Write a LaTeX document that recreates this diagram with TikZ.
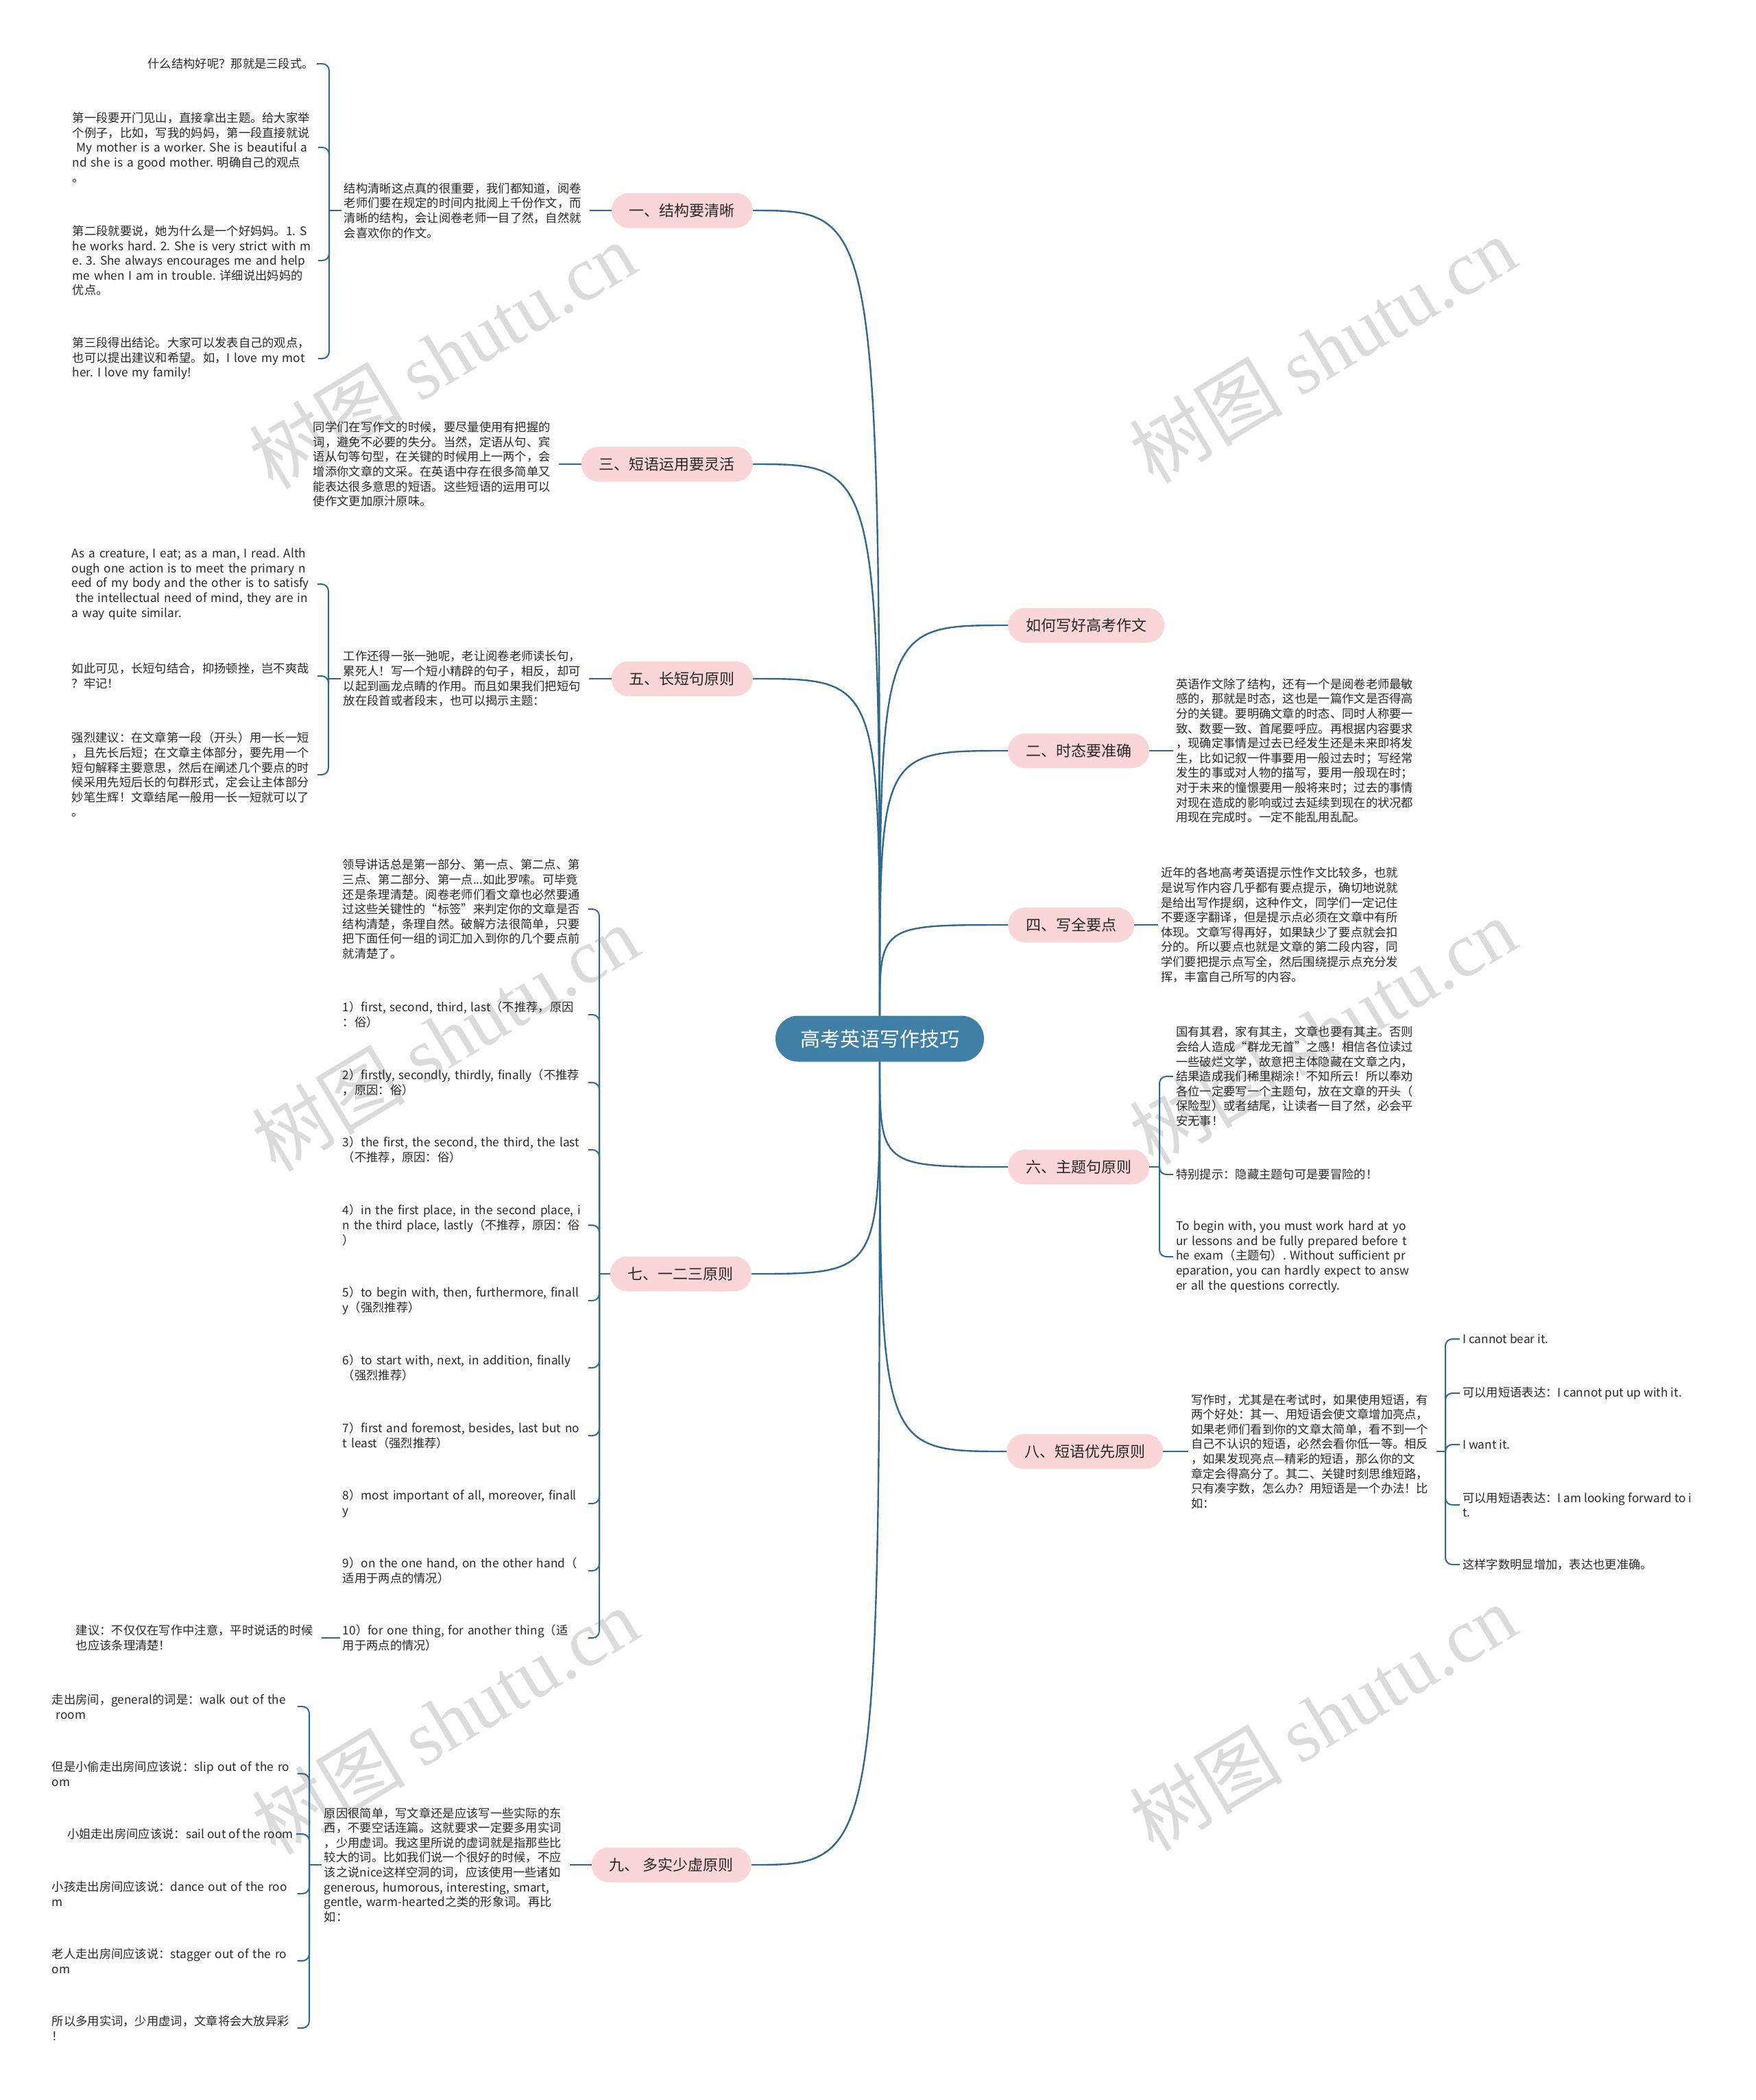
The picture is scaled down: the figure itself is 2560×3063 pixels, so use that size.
\documentclass[tikz,border=0pt]{standalone}
\usepackage{fontspec}
\setmainfont{Noto Sans CJK SC}
\newfontfamily\wmfont{Liberation Serif}
\frenchspacing
\definecolor{rootblue}{RGB}{64,127,166}
\definecolor{topicpink}{RGB}{250,215,214}
\definecolor{linkblue}{RGB}{48,104,142}
\definecolor{inkgray}{RGB}{40,40,40}

\begin{document}
\begin{tikzpicture}[x=1pt, y=-1pt,
	root/.style={rounded corners=33pt, fill=rootblue, text=white, minimum height=67pt, inner xsep=36pt, font=\fontsize{29}{34}\selectfont},
	topic/.style={rounded corners=25pt, fill=topicpink, text=inkgray, minimum height=51pt, inner xsep=26pt, font=\fontsize{22}{26}\selectfont},
	leaf/.style={align=left, text=inkgray, inner xsep=4pt, inner ysep=2pt, font=\fontsize{17.3}{21.6}\selectfont},
	para/.style={leaf, text width=354pt},
	mainlink/.style={draw=linkblue, line width=2.4pt},
	sublink/.style={draw=linkblue, line width=2pt, rounded corners=10pt},
	watermark/.style={text=black!14, rotate=31, font=\fontsize{112}{118}\selectfont}]

	\useasboundingbox (0,0) rectangle (2560,3063);
	\fill[white] (0,0) rectangle (2560,3063);

	\node[watermark] (wm1) at (645,518) {树图 {\wmfont shutu.cn}};
	\node[watermark] (wm2) at (1929,510) {树图 {\wmfont shutu.cn}};
	\node[watermark] (wm3) at (649,1514) {树图 {\wmfont shutu.cn}};
	\node[watermark] (wm4) at (1929,1504) {树图 {\wmfont shutu.cn}};
	\node[watermark] (wm5) at (649,2510) {树图 {\wmfont shutu.cn}};
	\node[watermark] (wm6) at (1929,2505) {树图 {\wmfont shutu.cn}};

	\node[root] (root) at (1283,1515) {高考英语写作技巧};

	\node[topic, anchor=east] (s1) at (1098,307) {一、结构要清晰};
	\node[topic, anchor=east] (s3) at (1098,677) {三、短语运用要灵活};
	\node[topic, anchor=east] (s5) at (1098,990) {五、长短句原则};
	\node[topic, anchor=east] (s7) at (1096,1858) {七、一二三原则};
	\node[topic, anchor=east] (s9) at (1096,2720) {九、 多实少虚原则};

	\node[topic, anchor=west] (t0) at (1470,912) {如何写好高考作文};
	\node[topic, anchor=west] (s2) at (1470,1095) {二、时态要准确};
	\node[topic, anchor=west] (s4) at (1470,1349) {四、写全要点};
	\node[topic, anchor=west] (s6) at (1470,1702) {六、主题句原则};
	\node[topic, anchor=west] (s8) at (1468,2117) {八、短语优先原则};

	\node[para, anchor=east] (s1t) at (860,307) {结构清晰这点真的很重要，我们都知道，阅卷\\老师们要在规定的时间内批阅上千份作文，而\\清晰的结构，会让阅卷老师一目了然，自然就\\会喜欢你的作文。};
	\coordinate (j1) at (480,307);
	\node[leaf, anchor=east] (s1a) at (462,93) {什么结构好呢？那就是三段式。};
	\node[para, anchor=east] (s1b) at (464,215) {第一段要开门见山，直接拿出主题。给大家举\\个例子，比如，写我的妈妈，第一段直接就说\\\ My mother is a worker. She is beautiful a\\nd she is a good mother. 明确自己的观点\\。};
	\node[para, anchor=east] (s1c) at (464,380) {第二段就要说，她为什么是一个好妈妈。1. S\\he works hard. 2. She is very strict with m\\e. 3. She always encourages me and help\\me when I am in trouble. 详细说出妈妈的\\优点。};
	\node[para, anchor=east] (s1d) at (464,523) {第三段得出结论。大家可以发表自己的观点，\\也可以提出建议和希望。如，I love my mot\\her. I love my family!};

	\node[para, anchor=east] (s3t) at (815,677) {同学们在写作文的时候，要尽量使用有把握的\\词，避免不必要的失分。当然，定语从句、宾\\语从句等句型，在关键的时候用上一两个，会\\增添你文章的文采。在英语中存在很多简单又\\能表达很多意思的短语。这些短语的运用可以\\使作文更加原汁原味。};

	\node[para, anchor=east] (s5t) at (859,990) {工作还得一张一弛呢，老让阅卷老师读长句，\\累死人！写一个短小精辟的句子，相反，却可\\以起到画龙点睛的作用。而且如果我们把短句\\放在段首或者段末，也可以揭示主题：};
	\coordinate (j5) at (479,990);
	\node[para, anchor=east] (s5a) at (463,852) {As a creature, I eat; as a man, I read. Alth\\ough one action is to meet the primary n\\eed of my body and the other is to satisfy\\\ the intellectual need of mind, they are in\\a way quite similar.};
	\node[para, anchor=east] (s5b) at (463,986) {如此可见，长短句结合，抑扬顿挫，岂不爽哉\\？牢记！};
	\node[para, anchor=east] (s5c) at (463,1130) {强烈建议：在文章第一段（开头）用一长一短\\，且先长后短；在文章主体部分，要先用一个\\短句解释主要意思，然后在阐述几个要点的时\\候采用先短后长的句群形式，定会让主体部分\\妙笔生辉！文章结尾一般用一长一短就可以了\\。};

	\coordinate (j7) at (874,1858);
	\node[para, anchor=east] (s7a) at (858,1326) {领导讲话总是第一部分、第一点、第二点、第\\三点、第二部分、第一点...如此罗嗦。可毕竟\\还是条理清楚。阅卷老师们看文章也必然要通\\过这些关键性的“标签”来判定你的文章是否\\结构清楚，条理自然。破解方法很简单，只要\\把下面任何一组的词汇加入到你的几个要点前\\就清楚了。};
	\node[para, anchor=east] (s7b) at (858,1480) {1）first, second, third, last（不推荐，原因\\：俗）};
	\node[para, anchor=east] (s7c) at (858,1579) {2）firstly, secondly, thirdly, finally（不推荐\\，原因：俗）};
	\node[para, anchor=east] (s7d) at (858,1677) {3）the first, the second, the third, the last\\（不推荐，原因：俗）};
	\node[para, anchor=east] (s7e) at (858,1787) {4）in the first place, in the second place, i\\n the third place, lastly（不推荐，原因：俗\\）};
	\node[para, anchor=east] (s7f) at (858,1897) {5）to begin with, then, furthermore, finall\\y（强烈推荐）};
	\node[para, anchor=east] (s7g) at (858,1995) {6）to start with, next, in addition, finally\\（强烈推荐）};
	\node[para, anchor=east] (s7h) at (858,2094) {7）first and foremost, besides, last but no\\t least（强烈推荐）};
	\node[para, anchor=east] (s7i) at (858,2193) {8）most important of all, moreover, finall\\y};
	\node[para, anchor=east] (s7j) at (858,2291) {9）on the one hand, on the other hand（\\适用于两点的情况）};
	\node[para, anchor=east] (s7k) at (858,2389) {10）for one thing, for another thing（适\\用于两点的情况）};
	\node[para, anchor=east] (s7l) at (469,2389) {建议：不仅仅在写作中注意，平时说话的时候\\也应该条理清楚！};

	\node[para, anchor=east] (s9t) at (831,2720) {原因很简单，写文章还是应该写一些实际的东\\西，不要空话连篇。这就要求一定要多用实词\\，少用虚词。我这里所说的虚词就是指那些比\\较大的词。比如我们说一个很好的时候，不应\\该之说nice这样空洞的词，应该使用一些诸如\\generous, humorous, interesting, smart,\\gentle, warm-hearted之类的形象词。再比\\如：};
	\coordinate (j9) at (451,2720);
	\node[para, anchor=east] (s9a) at (434,2489) {走出房间，general的词是：walk out of the\\\ room};
	\node[para, anchor=east] (s9b) at (434,2587) {但是小偷走出房间应该说：slip out of the ro\\om};
	\node[leaf, anchor=east] (s9c) at (432,2675) {\ 小姐走出房间应该说：sail out of the room};
	\node[para, anchor=east] (s9d) at (434,2762) {小孩走出房间应该说：dance out of the roo\\m};
	\node[para, anchor=east] (s9e) at (434,2860) {老人走出房间应该说：stagger out of the ro\\om};
	\node[para, anchor=east] (s9f) at (434,2958) {所以多用实词，少用虚词，文章将会大放异彩\\！};

	\node[para, anchor=west] (s2t) at (1711,1095) {英语作文除了结构，还有一个是阅卷老师最敏\\感的，那就是时态，这也是一篇作文是否得高\\分的关键。要明确文章的时态、同时人称要一\\致、数要一致、首尾要呼应。再根据内容要求\\，现确定事情是过去已经发生还是未来即将发\\生，比如记叙一件事要用一般过去时；写经常\\发生的事或对人物的描写，要用一般现在时；\\对于未来的憧憬要用一般将来时；过去的事情\\对现在造成的影响或过去延续到现在的状况都\\用现在完成时。一定不能乱用乱配。};

	\node[para, anchor=west] (s4t) at (1689,1349) {近年的各地高考英语提示性作文比较多，也就\\是说写作内容几乎都有要点提示，确切地说就\\是给出写作提纲，这种作文，同学们一定记住\\不要逐字翻译，但是提示点必须在文章中有所\\体现。文章写得再好，如果缺少了要点就会扣\\分的。所以要点也就是文章的第二段内容，同\\学们要把提示点写全，然后围绕提示点充分发\\挥，丰富自己所写的内容。};

	\coordinate (j6) at (1691,1702);
	\node[para, anchor=west] (s6a) at (1711,1570) {国有其君，家有其主，文章也要有其主。否则\\会给人造成“群龙无首”之感！相信各位读过\\一些破烂文学，故意把主体隐藏在文章之内，\\结果造成我们稀里糊涂！不知所云！所以奉劝\\各位一定要写一个主题句，放在文章的开头（\\保险型）或者结尾，让读者一目了然，必会平\\安无事！};
	\node[leaf, anchor=west] (s6b) at (1711,1713) {特别提示：隐藏主题句可是要冒险的！};
	\node[para, anchor=west] (s6c) at (1711,1833) {To begin with, you must work hard at yo\\ur lessons and be fully prepared before t\\he exam（主题句）. Without sufficient pr\\eparation, you can hardly expect to answ\\er all the questions correctly.};

	\node[para, anchor=west] (s8t) at (1733,2117) {写作时，尤其是在考试时，如果使用短语，有\\两个好处：其一、用短语会使文章增加亮点，\\如果老师们看到你的文章太简单，看不到一个\\自己不认识的短语，必然会看你低一等。相反\\，如果发现亮点—精彩的短语，那么你的文\\章定会得高分了。其二、关键时刻思维短路，\\只有凑字数，怎么办？用短语是一个办法！比\\如：};
	\coordinate (j8) at (2108,2117);
	\node[leaf, anchor=west] (s8a) at (2129,1953) {I cannot bear it.};
	\node[leaf, anchor=west] (s8b) at (2129,2032) {可以用短语表达：I cannot put up with it.};
	\node[leaf, anchor=west] (s8c) at (2129,2107) {I want it.};
	\node[leaf, anchor=west] (s8d) at (2129,2195) {可以用短语表达：I am looking forward to i\\t.};
	\node[leaf, anchor=west] (s8e) at (2129,2282) {这样字数明显增加，表达也更准确。};

	\draw[mainlink] (root.north) .. controls (root.north |- s1.east) .. (s1.east);
	\draw[mainlink] (root.north) .. controls (root.north |- s3.east) .. (s3.east);
	\draw[mainlink] (root.north) .. controls (root.north |- s5.east) .. (s5.east);
	\draw[mainlink] (root.south) .. controls (root.south |- s7.east) .. (s7.east);
	\draw[mainlink] (root.south) .. controls (root.south |- s9.east) .. (s9.east);
	\draw[mainlink] (root.north) .. controls (root.north |- t0.west) .. (t0.west);
	\draw[mainlink] (root.north) .. controls (root.north |- s2.west) .. (s2.west);
	\draw[mainlink] (root.north) .. controls (root.north |- s4.west) .. (s4.west);
	\draw[mainlink] (root.south) .. controls (root.south |- s6.west) .. (s6.west);
	\draw[mainlink] (root.south) .. controls (root.south |- s8.west) .. (s8.west);

	\draw[sublink] (s1.west) -- (s1t.east);
	\draw[sublink] (s1t.west) -- (j1);
	\draw[sublink] (j1) |- (s1a.east);
	\draw[sublink] (j1) |- (s1b.east);
	\draw[sublink] (j1) |- (s1c.east);
	\draw[sublink] (j1) |- (s1d.east);

	\draw[sublink] (s3.west) -- (s3t.east);

	\draw[sublink] (s5.west) -- (s5t.east);
	\draw[sublink] (s5t.west) -- (j5);
	\draw[sublink] (j5) |- (s5a.east);
	\draw[sublink] (j5) |- (s5b.east);
	\draw[sublink] (j5) |- (s5c.east);

	\draw[sublink] (s7.west) -- (j7);
	\draw[sublink] (j7) |- (s7a.east);
	\draw[sublink] (j7) |- (s7b.east);
	\draw[sublink] (j7) |- (s7c.east);
	\draw[sublink] (j7) |- (s7d.east);
	\draw[sublink] (j7) |- (s7e.east);
	\draw[sublink] (j7) |- (s7f.east);
	\draw[sublink] (j7) |- (s7g.east);
	\draw[sublink] (j7) |- (s7h.east);
	\draw[sublink] (j7) |- (s7i.east);
	\draw[sublink] (j7) |- (s7j.east);
	\draw[sublink] (j7) |- (s7k.east);
	\draw[sublink] (s7k.west) -- (s7l.east);

	\draw[sublink] (s9.west) -- (s9t.east);
	\draw[sublink] (s9t.west) -- (j9);
	\draw[sublink] (j9) |- (s9a.east);
	\draw[sublink] (j9) |- (s9b.east);
	\draw[sublink] (j9) |- (s9c.east);
	\draw[sublink] (j9) |- (s9d.east);
	\draw[sublink] (j9) |- (s9e.east);
	\draw[sublink] (j9) |- (s9f.east);

	\draw[sublink] (s2.east) -- (s2t.west);
	\draw[sublink] (s4.east) -- (s4t.west);

	\draw[sublink] (s6.east) -- (j6);
	\draw[sublink] (j6) |- (s6a.west);
	\draw[sublink] (j6) |- (s6b.west);
	\draw[sublink] (j6) |- (s6c.west);

	\draw[sublink] (s8.east) -- (s8t.west);
	\draw[sublink] (s8t.east) -- (j8);
	\draw[sublink] (j8) |- (s8a.west);
	\draw[sublink] (j8) |- (s8b.west);
	\draw[sublink] (j8) |- (s8c.west);
	\draw[sublink] (j8) |- (s8d.west);
	\draw[sublink] (j8) |- (s8e.west);
\end{tikzpicture}
\end{document}
